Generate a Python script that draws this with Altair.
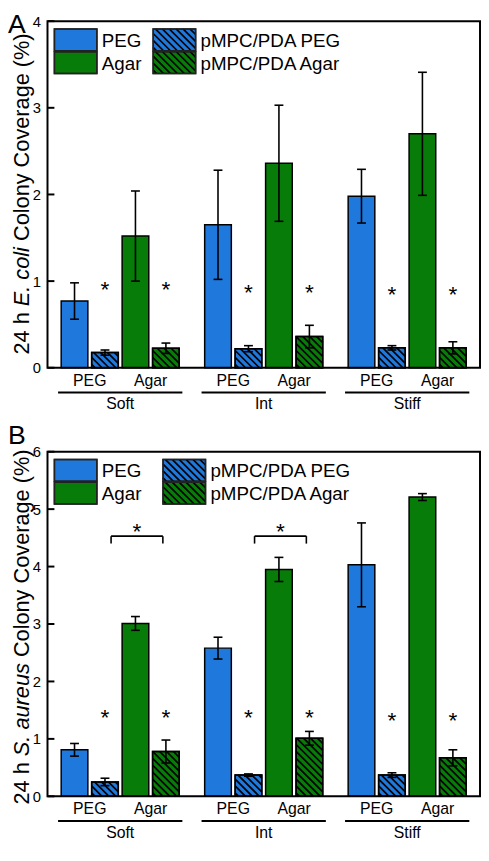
import altair as alt
import pandas as pd

# ---------------- data ----------------
groups = ["Soft", "Int", "Stiff"]
series = ["PEG", "pMPC/PDA PEG", "Agar", "pMPC/PDA Agar"]
series_base = ["PEG", "PEG", "Agar", "Agar"]
series_hatched = [False, True, False, True]
sub_labels = ["PEG", "Agar"]

# E. coli (panel A), order: group x series
ecoli_mean = [0.77, 0.175, 1.52, 0.225,
              1.65, 0.22, 2.36, 0.36,
              1.98, 0.23, 2.70, 0.23]
ecoli_err = [0.21, 0.03, 0.52, 0.06,
             0.63, 0.035, 0.67, 0.13,
             0.31, 0.025, 0.71, 0.07]
ecoli_star_y = [0.96, 0.93, 0.91]

# S. aureus (panel B)
saureus_mean = [0.81, 0.25, 3.01, 0.78,
                2.58, 0.37, 3.95, 1.01,
                4.03, 0.37, 5.21, 0.67]
saureus_err = [0.11, 0.065, 0.12, 0.20,
               0.19, 0.02, 0.21, 0.12,
               0.73, 0.04, 0.06, 0.14]
saureus_star_y = [1.46, 1.46, 1.42]
saureus_bracket_groups = ["Soft", "Int"]
saureus_bracket_y = [4.53, 4.53]

# ---------------- style / layout ----------------
FONT = "Liberation Sans"
BLUE = "#1f78db"
GREEN = "#087c08"
WIDTH = 438
TOTAL_H = 831
GROUP_STEP = 4.71
XMIN = -0.887
XMAX = XMIN + WIDTH / 30.85
PX_X = WIDTH / (XMAX - XMIN)
BAR_HALF = 13.5 / PX_X
CAP_HALF = 4.5 / PX_X
HATCH_STEP = 7.0
TITLE_SIZE = 22

ARIAL_W = {'2': 556, '4': 556, ' ': 278, 'h': 556, 'E': 667, '.': 278, 'c': 500,
           'o': 556, 'l': 222, 'i': 222, 'C': 722, 'n': 556, 'y': 500, 'v': 500,
           'e': 556, 'r': 333, 'a': 556, 'g': 556, '(': 333, '%': 889, ')': 333,
           'S': 667, 'u': 556, 's': 500}


def text_w(s, size):
    return sum(ARIAL_W.get(ch, 556) for ch in s) * size / 1000.0


def hatch_segments(w_px, h_px, step):
    """diagonal '\\' lines inside a w x h box, origin bottom-left, v upward"""
    segs = []
    c = step / 2.0
    while c < w_px + h_px:
        u0 = max(0.0, c - h_px)
        u1 = min(w_px, c)
        if u1 > u0:
            segs.append((u0, c - u0, u1, c - u1))
        c += step
    return segs


def one_row():
    return alt.Data(values=[{}])


def panel(mean, err, ymax, top, bottom, title_parts, letter, letter_y,
          legend_x2, star_y, title_center, bracket_groups=None, bracket_y=None):
    height = bottom - top
    PX_Y = height / ymax
    rows = []
    for g, grp in enumerate(groups):
        for i, s in enumerate(series):
            k = g * 4 + i
            pos = g * GROUP_STEP + i
            rows.append(dict(group=grp, series=s, base=series_base[i],
                             hatched=series_hatched[i], pos=pos,
                             x1=pos - BAR_HALF, x2=pos + BAR_HALF, zero=0.0,
                             mean=mean[k], lo=mean[k] - err[k], hi=mean[k] + err[k],
                             cl=pos - CAP_HALF, cr=pos + CAP_HALF))
    df = pd.DataFrame(rows)
    hdf_rows = []
    for _, r in df[df.hatched].iterrows():
        for (u0, v0, u1, v1) in hatch_segments(27.0, r["mean"] * PX_Y, HATCH_STEP):
            hdf_rows.append(dict(hx0=r.x1 + u0 / PX_X, hy0=v0 / PX_Y,
                                 hx1=r.x1 + u1 / PX_X, hy1=v1 / PX_Y))
    hdf = pd.DataFrame(hdf_rows)

    xs = alt.Scale(domain=[XMIN, XMAX], nice=False, zero=False)
    ys = alt.Scale(domain=[0, ymax], range=[bottom, top], nice=False, zero=True)
    yaxis = alt.Axis(values=list(range(ymax + 1)), ticks=False, domain=False, grid=False,
                     labelFontSize=15, labelPadding=7, labelColor="black", labelFont=FONT,
                     title=None, format="d", orient="left", labelFlush=False)

    def X(f):
        return alt.X(f, type="quantitative", scale=xs, axis=None)

    def Y(f):
        return alt.Y(f, type="quantitative", scale=ys, axis=yaxis)

    fill_enc = alt.Fill("base:N", scale=alt.Scale(domain=["PEG", "Agar"], range=[BLUE, GREEN]),
                        legend=None)

    bars = alt.Chart(df).mark_rect(stroke="black", strokeWidth=1.5).encode(
        x=X("x1"), x2=alt.X2("x2"), y=Y("zero"), y2=alt.Y2("mean"), fill=fill_enc)
    hatch = alt.Chart(hdf).mark_rule(color="black", strokeWidth=1.7).encode(
        x=X("hx0"), x2=alt.X2("hx1"), y=Y("hy0"), y2=alt.Y2("hy1"))
    outline = alt.Chart(df[df.hatched]).mark_rect(
        fillOpacity=0, stroke="black", strokeWidth=1.5).encode(
        x=X("x1"), x2=alt.X2("x2"), y=Y("zero"), y2=alt.Y2("mean"))
    ebar = alt.Chart(df).mark_rule(color="black", strokeWidth=1.6).encode(
        x=X("pos"), y=Y("lo"), y2=alt.Y2("hi"))
    cap_hi = alt.Chart(df).mark_rule(color="black", strokeWidth=1.6).encode(
        x=X("cl"), x2=alt.X2("cr"), y=Y("hi"))
    cap_lo = alt.Chart(df).mark_rule(color="black", strokeWidth=1.6).encode(
        x=X("cl"), x2=alt.X2("cr"), y=Y("lo"))

    # stars
    srows = []
    for g in range(3):
        for i in range(4):
            if series_hatched[i]:
                srows.append(dict(pos=g * GROUP_STEP + i, sy=star_y[g]))
    sdf = pd.DataFrame(srows)
    stars = alt.Chart(sdf).mark_text(text="*", fontSize=23, font=FONT, baseline="alphabetic",
                                     dy=13, color="black").encode(x=X("pos"), y=Y("sy"))

    # inward y ticks
    tdf = pd.DataFrame({"v": list(range(ymax + 1))})
    ticks = alt.Chart(tdf).mark_rule(color="black", strokeWidth=2).encode(
        x=alt.value(0), x2=alt.value(7), y=Y("v"))

    # category labels under the axis
    lrows = []
    for g, grp in enumerate(groups):
        lrows.append(dict(pos=g * GROUP_STEP + 0.5, label=sub_labels[0]))
        lrows.append(dict(pos=g * GROUP_STEP + 2.5, label=sub_labels[1]))
    ldf = pd.DataFrame(lrows)
    sublab = alt.Chart(ldf).mark_text(fontSize=16, font=FONT, baseline="middle",
                                      color="black").encode(
        x=X("pos"), y=alt.value(bottom + 13), text="label:N")
    gdf = pd.DataFrame(dict(pos=[g * GROUP_STEP + 1.5 for g in range(3)],
                            u0=[g * GROUP_STEP - 0.54 for g in range(3)],
                            u1=[g * GROUP_STEP + 3.54 for g in range(3)],
                            label=groups))
    grplab = alt.Chart(gdf).mark_text(fontSize=16, font=FONT, baseline="middle",
                                      color="black").encode(
        x=X("pos"), y=alt.value(bottom + 37), text="label:N")
    uline = alt.Chart(gdf).mark_rule(color="black", strokeWidth=2).encode(
        x=X("u0"), x2=alt.X2("u1"), y=alt.value(bottom + 25))

    layers = [bars, hatch, outline, ebar, cap_hi, cap_lo, stars, ticks, sublab, grplab, uline]

    # significance brackets
    if bracket_groups:
        brows = []
        for grp, by in zip(bracket_groups, bracket_y):
            g = groups.index(grp)
            brows.append(dict(bl=g * GROUP_STEP + 1.2, br=g * GROUP_STEP + 2.9,
                              bm=g * GROUP_STEP + 2.05, by=by, bb=by - 0.13, bs=by + 0.17))
        bdf = pd.DataFrame(brows)
        layers += [
            alt.Chart(bdf).mark_rule(color="black", strokeWidth=1.6).encode(
                x=X("bl"), x2=alt.X2("br"), y=Y("by")),
            alt.Chart(bdf).mark_rule(color="black", strokeWidth=1.6).encode(
                x=X("bl"), y=Y("bb"), y2=alt.Y2("by")),
            alt.Chart(bdf).mark_rule(color="black", strokeWidth=1.6).encode(
                x=X("br"), y=Y("bb"), y2=alt.Y2("by")),
            alt.Chart(bdf).mark_text(text="*", fontSize=23, font=FONT, baseline="alphabetic",
                                     dy=13, color="black").encode(x=X("bm"), y=Y("bs")),
        ]

    # legend (pixel space)
    sw_x = [7, legend_x2]
    sw_y = [top + 8, top + 31]
    legrows, leghatch = [], []
    order = [(0, 0, 0), (1, 1, 0), (2, 0, 1), (3, 1, 1)]
    for i, c, r in order:
        x0, y0 = sw_x[c], sw_y[r]
        x1, y1 = x0 + 43, y0 + 22
        col = BLUE if series_base[i] == "PEG" else GREEN
        legrows.append(dict(lx0=x0, lx1=x1, ly0=y0, ly1=y1, col=col, label=series[i],
                            tx=x1 + 5, ty=(y0 + y1) / 2 + 1))
        if series_hatched[i]:
            for (u0, v0, u1, v1) in hatch_segments(43.0, 22.0, HATCH_STEP):
                leghatch.append(dict(a0=x0 + u0, b0=y1 - v0, a1=x0 + u1, b1=y1 - v1))
    legdf = pd.DataFrame(legrows)
    lhdf = pd.DataFrame(leghatch)
    PX = lambda f: alt.X(f, type="quantitative", scale=None, axis=None)
    PY = lambda f: alt.Y(f, type="quantitative", scale=None, axis=None)
    layers += [
        alt.Chart(legdf).mark_rect(stroke="#222222", strokeWidth=1.5).encode(
            x=PX("lx0"), x2=alt.X2("lx1"), y=PY("ly0"), y2=alt.Y2("ly1"),
            fill=alt.Fill("col:N", scale=None)),
        alt.Chart(lhdf).mark_rule(color="black", strokeWidth=1.7).encode(
            x=PX("a0"), x2=alt.X2("a1"), y=PY("b0"), y2=alt.Y2("b1")),
        alt.Chart(legdf).mark_rect(fillOpacity=0, stroke="#222222", strokeWidth=1.5).encode(
            x=PX("lx0"), x2=alt.X2("lx1"), y=PY("ly0"), y2=alt.Y2("ly1")),
        alt.Chart(legdf).mark_text(fontSize=19, font=FONT, align="left", baseline="middle",
                                   color="black").encode(
            x=PX("tx"), y=PY("ty"), text="label:N"),
    ]

    # y title with italic species name (segments joined by single spaces)
    space = text_w(" ", TITLE_SIZE)
    total = sum(text_w(t, TITLE_SIZE) for t, _ in title_parts) + space * (len(title_parts) - 1)
    start = title_center + total / 2.0
    off = 0.0
    for t, italic in title_parts:
        layers.append(alt.Chart(one_row()).mark_text(
            text=t, angle=270, align="left", baseline="middle", fontSize=TITLE_SIZE,
            font=FONT, fontStyle="italic" if italic else "normal", color="black").encode(
            x=alt.value(-26), y=alt.value(start - off)))
        off += text_w(t, TITLE_SIZE) + space

    # panel letter
    layers.append(alt.Chart(one_row()).mark_text(
        text=letter, fontSize=27, font=FONT, align="left", baseline="alphabetic",
        color="black").encode(x=alt.value(-40), y=alt.value(letter_y)))

    # panel frame
    layers.append(alt.Chart(one_row()).mark_rect(
        fillOpacity=0, stroke="black", strokeWidth=2).encode(
        x=alt.value(0), x2=alt.value(WIDTH), y=alt.value(top), y2=alt.value(bottom)))

    return alt.layer(*layers)


A_TOP, A_BOT = 0, 351
B_TOP, B_BOT = 436, 785

pa = panel(ecoli_mean, ecoli_err, 4, A_TOP, A_BOT,
           [("24 h", False), ("E. coli", True), ("Colony Coverage (%)", False)],
           "A", A_TOP + 12, 107, ecoli_star_y, A_TOP + 175)
pb = panel(saureus_mean, saureus_err, 6, B_TOP, B_BOT,
           [("24 h", False), ("S. aureus", True), ("Colony Coverage (%)", False)],
           "B", B_TOP - 8, 117, saureus_star_y, (B_TOP + B_BOT) / 2 + 3,
           saureus_bracket_groups, saureus_bracket_y)

chart = alt.layer(pa, pb).resolve_scale(y="independent").properties(
    width=WIDTH, height=TOTAL_H,
    autosize=alt.AutoSizeParams(type="none"),
    padding={"left": 40, "top": 8, "right": 1, "bottom": 0},
    background="white",
).configure_view(strokeWidth=0).configure_text(font=FONT)

chart.save("out.html", embed_options={"renderer": "svg", "actions": False})
